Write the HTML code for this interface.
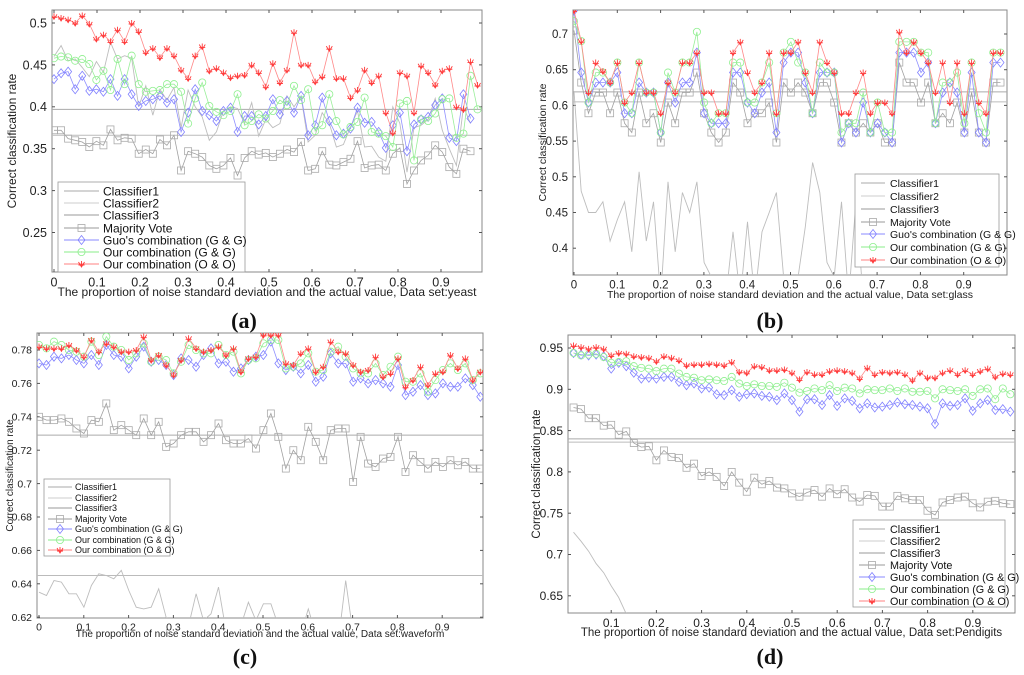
<!DOCTYPE html>
<html><head><meta charset="utf-8"><style>
html,body{margin:0;padding:0;background:#fff;overflow:hidden;width:1024px;height:675px}
svg{display:block;overflow:hidden;font-family:"Liberation Sans",Arial,sans-serif}
</style></head><body>
<svg id="fig" width="1024" height="675" viewBox="0 0 1024 675" xmlns="http://www.w3.org/2000/svg"></svg>
<script>
// ---------- data: panel (a) yeast ----------
const aRed=[0.508,0.506,0.504,0.500,0.509,0.499,0.481,0.486,0.478,0.492,0.478,0.500,0.490,0.465,0.470,0.459,0.470,0.461,0.444,0.434,0.461,0.472,0.443,0.446,0.441,0.435,0.437,0.438,0.450,0.441,0.424,0.452,0.429,0.444,0.489,0.450,0.450,0.430,0.436,0.470,0.434,0.434,0.411,0.420,0.444,0.429,0.437,0.393,0.369,0.441,0.437,0.393,0.449,0.441,0.426,0.443,0.446,0.400,0.397,0.454,0.426];
const aGreen=[0.458,0.460,0.459,0.455,0.457,0.451,0.432,0.443,0.420,0.457,0.427,0.461,0.427,0.418,0.419,0.420,0.427,0.427,0.418,0.380,0.410,0.429,0.401,0.394,0.390,0.395,0.415,0.378,0.383,0.391,0.386,0.395,0.408,0.402,0.425,0.408,0.421,0.371,0.378,0.415,0.383,0.367,0.376,0.382,0.411,0.370,0.368,0.365,0.352,0.404,0.407,0.336,0.385,0.383,0.392,0.409,0.410,0.363,0.368,0.437,0.397];
const aBlue=[0.433,0.440,0.442,0.421,0.437,0.419,0.421,0.418,0.433,0.413,0.433,0.415,0.401,0.407,0.409,0.413,0.405,0.409,0.370,0.393,0.421,0.395,0.390,0.383,0.395,0.399,0.370,0.389,0.389,0.379,0.389,0.409,0.391,0.407,0.393,0.413,0.366,0.378,0.411,0.383,0.366,0.368,0.374,0.399,0.381,0.382,0.370,0.351,0.378,0.393,0.347,0.379,0.385,0.388,0.402,0.410,0.363,0.359,0.415,0.386];
const aMV=[0.372,0.372,0.362,0.360,0.358,0.352,0.359,0.354,0.373,0.360,0.363,0.362,0.344,0.349,0.344,0.361,0.354,0.366,0.324,0.347,0.344,0.340,0.330,0.326,0.330,0.339,0.318,0.339,0.347,0.343,0.345,0.340,0.344,0.349,0.346,0.358,0.324,0.326,0.347,0.331,0.330,0.334,0.338,0.359,0.327,0.330,0.331,0.324,0.344,0.351,0.308,0.324,0.336,0.342,0.354,0.346,0.328,0.320,0.350,0.347];
const aC1=[0.460,0.473,0.455,0.457,0.447,0.436,0.454,0.441,0.477,0.457,0.461,0.458,0.400,0.425,0.390,0.421,0.408,0.423,0.375,0.420,0.400,0.388,0.360,0.370,0.395,0.400,0.398,0.380,0.405,0.365,0.385,0.375,0.380,0.413,0.400,0.412,0.358,0.366,0.393,0.380,0.352,0.355,0.376,0.395,0.352,0.353,0.340,0.335,0.400,0.380,0.322,0.375,0.378,0.385,0.410,0.372,0.350,0.330,0.400,0.380];
const aConst=[0.397,0.366];
const aYTicks=[0.25,0.3,0.35,0.4,0.45,0.5];
const aXTicks=[0,0.1,0.2,0.3,0.4,0.5,0.6,0.7,0.8,0.9];
// ---------- data: panel (b) glass ----------
const bRed=[0.733,0.690,0.618,0.660,0.648,0.632,0.660,0.604,0.618,0.660,0.618,0.618,0.589,0.632,0.618,0.660,0.660,0.674,0.618,0.618,0.589,0.589,0.674,0.689,0.646,0.618,0.632,0.674,0.589,0.674,0.674,0.689,0.646,0.618,0.689,0.660,0.646,0.589,0.589,0.618,0.646,0.589,0.604,0.604,0.589,0.703,0.674,0.689,0.674,0.660,0.618,0.660,0.604,0.660,0.589,0.660,0.604,0.589,0.674,0.674];
const bGreen=[0.718,0.690,0.604,0.646,0.646,0.632,0.660,0.604,0.589,0.660,0.618,0.618,0.562,0.646,0.618,0.660,0.660,0.703,0.604,0.575,0.589,0.589,0.660,0.660,0.604,0.604,0.632,0.660,0.589,0.674,0.689,0.660,0.646,0.589,0.660,0.646,0.646,0.562,0.575,0.575,0.618,0.562,0.604,0.562,0.562,0.689,0.689,0.689,0.674,0.674,0.575,0.632,0.632,0.646,0.575,0.660,0.589,0.562,0.674,0.674];
const bBlue=[0.733,0.646,0.604,0.632,0.632,0.632,0.646,0.589,0.589,0.632,0.618,0.618,0.562,0.632,0.604,0.632,0.632,0.674,0.589,0.575,0.575,0.575,0.646,0.646,0.604,0.589,0.618,0.632,0.562,0.660,0.674,0.674,0.632,0.589,0.646,0.646,0.646,0.548,0.575,0.562,0.604,0.562,0.575,0.562,0.548,0.674,0.674,0.674,0.646,0.660,0.575,0.618,0.632,0.618,0.562,0.646,0.562,0.548,0.660,0.660];
const bMV=[0.705,0.632,0.589,0.618,0.618,0.589,0.618,0.575,0.562,0.618,0.575,0.589,0.548,0.604,0.575,0.618,0.618,0.646,0.589,0.562,0.548,0.562,0.632,0.618,0.575,0.589,0.589,0.604,0.548,0.632,0.618,0.632,0.618,0.589,0.632,0.632,0.604,0.548,0.575,0.562,0.575,0.562,0.575,0.548,0.548,0.660,0.632,0.632,0.604,0.632,0.575,0.589,0.575,0.604,0.562,0.618,0.562,0.548,0.632,0.632];
const bC1=[0.620,0.480,0.450,0.450,0.465,0.410,0.440,0.465,0.395,0.507,0.410,0.465,0.330,0.493,0.395,0.478,0.450,0.493,0.380,0.360,0.310,0.330,0.423,0.330,0.437,0.330,0.423,0.450,0.478,0.360,0.330,0.360,0.430,0.520,0.478,0.380,0.360,0.465,0.330,0.465,0.330,0.360,0.350,0.320,0.340,0.330,0.350,0.320,0.340,0.330,0.310,0.340,0.320,0.350,0.330,0.340,0.320,0.330,0.340,0.330];
const bConst=[0.619,0.605];
const bYTicks=[0.4,0.45,0.5,0.55,0.6,0.65,0.7];
const bXTicks=[0,0.1,0.2,0.3,0.4,0.5,0.6,0.7,0.8,0.9];
// ---------- data: panel (c) waveform ----------
const cRed=[0.782,0.781,0.781,0.781,0.783,0.780,0.776,0.786,0.779,0.784,0.782,0.779,0.779,0.780,0.788,0.774,0.777,0.771,0.765,0.774,0.787,0.781,0.779,0.780,0.782,0.777,0.781,0.767,0.775,0.776,0.789,0.789,0.789,0.772,0.771,0.778,0.781,0.767,0.770,0.785,0.779,0.778,0.771,0.767,0.768,0.776,0.764,0.766,0.775,0.758,0.762,0.770,0.759,0.766,0.767,0.777,0.769,0.775,0.762,0.767];
const cGreen=[0.783,0.781,0.785,0.783,0.780,0.779,0.776,0.785,0.777,0.788,0.782,0.780,0.774,0.778,0.784,0.773,0.776,0.774,0.766,0.773,0.783,0.780,0.778,0.778,0.783,0.777,0.779,0.766,0.774,0.775,0.784,0.786,0.786,0.769,0.770,0.772,0.778,0.767,0.768,0.779,0.782,0.776,0.769,0.766,0.766,0.772,0.765,0.770,0.776,0.761,0.761,0.766,0.755,0.762,0.768,0.772,0.768,0.772,0.762,0.766];
const cBlue=[0.772,0.771,0.776,0.775,0.777,0.774,0.772,0.777,0.771,0.783,0.777,0.776,0.769,0.776,0.782,0.773,0.774,0.771,0.765,0.775,0.774,0.770,0.777,0.781,0.772,0.773,0.767,0.769,0.774,0.776,0.777,0.785,0.772,0.768,0.770,0.766,0.771,0.761,0.764,0.778,0.772,0.772,0.761,0.763,0.760,0.762,0.760,0.758,0.771,0.753,0.755,0.759,0.753,0.754,0.760,0.758,0.758,0.763,0.759,0.752];
const cMV=[0.740,0.738,0.738,0.739,0.737,0.733,0.730,0.738,0.737,0.748,0.732,0.735,0.732,0.729,0.739,0.729,0.737,0.722,0.724,0.729,0.731,0.731,0.725,0.729,0.736,0.726,0.724,0.724,0.727,0.721,0.732,0.742,0.728,0.709,0.720,0.714,0.734,0.725,0.714,0.732,0.733,0.733,0.701,0.728,0.712,0.710,0.715,0.716,0.728,0.707,0.717,0.713,0.709,0.713,0.710,0.714,0.711,0.713,0.709,0.709];
const cC1=[0.635,0.633,0.642,0.641,0.634,0.634,0.626,0.639,0.646,0.645,0.643,0.648,0.636,0.626,0.625,0.626,0.637,0.620,0.615,0.610,0.615,0.634,0.618,0.622,0.638,0.612,0.610,0.615,0.629,0.618,0.628,0.628,0.615,0.610,0.605,0.610,0.625,0.610,0.605,0.610,0.605,0.642,0.610,0.600,0.605,0.600,0.610,0.600,0.605,0.600,0.610,0.600,0.605,0.600,0.600,0.605,0.600,0.600,0.605,0.600];
const cConst=[0.729,0.645];
const cYTicks=[0.62,0.64,0.66,0.68,0.7,0.72,0.74,0.76,0.78];
const cXTicks=[0,0.1,0.2,0.3,0.4,0.5,0.6,0.7,0.8,0.9];
// ---------- data: panel (d) Pendigits ----------
const dRed=[0.953,0.951,0.949,0.951,0.949,0.941,0.944,0.943,0.940,0.939,0.938,0.934,0.940,0.938,0.935,0.929,0.930,0.930,0.931,0.930,0.929,0.933,0.921,0.920,0.928,0.927,0.923,0.923,0.924,0.920,0.912,0.921,0.918,0.918,0.922,0.923,0.922,0.920,0.913,0.926,0.918,0.921,0.920,0.921,0.918,0.911,0.920,0.914,0.914,0.920,0.923,0.918,0.923,0.918,0.922,0.925,0.915,0.919,0.918];
const dGreen=[0.944,0.941,0.942,0.943,0.939,0.932,0.933,0.934,0.928,0.926,0.925,0.922,0.925,0.925,0.919,0.915,0.914,0.911,0.912,0.911,0.910,0.915,0.907,0.904,0.906,0.904,0.904,0.903,0.908,0.902,0.896,0.898,0.901,0.899,0.905,0.898,0.902,0.901,0.895,0.900,0.899,0.899,0.901,0.898,0.901,0.897,0.897,0.898,0.889,0.900,0.899,0.898,0.900,0.892,0.900,0.901,0.888,0.901,0.894];
const dBlue=[0.944,0.942,0.941,0.942,0.940,0.925,0.932,0.928,0.920,0.913,0.914,0.913,0.915,0.915,0.909,0.905,0.907,0.901,0.902,0.894,0.893,0.899,0.891,0.894,0.895,0.892,0.891,0.887,0.895,0.887,0.873,0.888,0.888,0.881,0.893,0.880,0.889,0.886,0.877,0.883,0.878,0.879,0.881,0.884,0.882,0.881,0.879,0.877,0.858,0.883,0.880,0.881,0.889,0.874,0.883,0.887,0.875,0.876,0.873];
const dMV=[0.878,0.876,0.865,0.865,0.856,0.857,0.845,0.849,0.835,0.830,0.831,0.814,0.826,0.818,0.817,0.805,0.810,0.795,0.800,0.794,0.783,0.800,0.787,0.776,0.793,0.785,0.789,0.781,0.780,0.774,0.770,0.775,0.778,0.770,0.780,0.773,0.779,0.769,0.764,0.772,0.771,0.758,0.758,0.771,0.768,0.766,0.766,0.753,0.748,0.763,0.766,0.769,0.770,0.762,0.757,0.764,0.765,0.762,0.761];
// Classifier1 on Pendigits only visible for the first few points (drops below axis)
const dC1=[0.727,0.716,0.704,0.689,0.678,0.662,0.648,0.628,0.612];
const dConst=[0.840,0.836];
const dYTicks=[0.65,0.7,0.75,0.8,0.85,0.9,0.95];
const dXTicks=[0.1,0.2,0.3,0.4,0.5,0.6,0.7,0.8,0.9];
const legendNames=["Classifier1","Classifier2","Classifier3","Majority Vote","Guo's combination (G & G)","Our combination (G & G)","Our combination (O & O)"];

const NS="http://www.w3.org/2000/svg";
const svg=document.getElementById('fig');
function mk(tag,attrs,parent){const e=document.createElementNS(NS,tag);for(const k in attrs)e.setAttribute(k,attrs[k]);(parent||svg).appendChild(e);return e;}

const panels=[
 {id:'a',L:52,R:482,T:10,B:272,x0px:54,xs:430,y0v:0.5,y0px:23,ys:41.9/0.05,xStart:0,xEnd:0.985,step:0.985/60,red:aRed,green:aGreen,blue:aBlue,mv:aMV,c1:aC1,cons:aConst,yt:aYTicks,xt:aXTicks,fs:12.5,xfs:12,
  xlabel:"The proportion of noise standard deviation and the actual value, Data set:yeast",xlY:296,ylX:16,
  leg:{x:58,y:182,w:187,h:90,rows:[191,203,215,228,240,252,264],fs:12,lx1:64,lx2:99,tx:103},tag:{x:244,y:328}},
 {id:'b',L:573,R:1007,T:10,B:275,x0px:574,xs:433,y0v:0.7,y0px:34,ys:35.7/0.05,xStart:0,xEnd:0.985,step:0.985/59,red:bRed,green:bGreen,blue:bBlue,mv:bMV,c1:bC1,cons:bConst,yt:bYTicks,xt:bXTicks,fs:11.5,xfs:10.5,
  xlabel:"The proportion of noise standard deviation and the actual value, Data set:glass",xlY:298,ylX:546,
  leg:{x:855,y:174,w:144,h:93,rows:[183,196,209,222,234,247,260],fs:10.5,lx1:861,lx2:885,tx:890},tag:{x:770,y:328}},
 {id:'c',L:37,R:483,T:333,B:618,x0px:39,xs:448,y0v:0.78,y0px:350,ys:33.4/0.02,xStart:0,xEnd:0.985,step:0.985/59,red:cRed,green:cGreen,blue:cBlue,mv:cMV,c1:cC1,cons:cConst,yt:cYTicks,xt:cXTicks,fs:10.5,xfs:10,
  xlabel:"The proportion of noise standard deviation and the actual value, Data set:waveform",xlY:637,ylX:13,
  leg:{x:44,y:479,w:126,h:77,rows:[487,498,508,519,529,540,550],fs:9,lx1:48,lx2:72,tx:75},tag:{x:245,y:664}},
 {id:'d',L:568,R:1015,T:335,B:613,x0px:566,xs:452,y0v:0.95,y0px:348,ys:41.3/0.05,xStart:0.0167,xEnd:0.983,step:(0.983-0.0167)/58,red:dRed,green:dGreen,blue:dBlue,mv:dMV,c1:dC1,cons:dConst,yt:dYTicks,xt:dXTicks,fs:12,xfs:11.5,
  xlabel:"The proportion of noise standard deviation and the actual value, Data set:Pendigits",xlY:636,ylX:540,
  leg:{x:853,y:520,w:152,h:87,rows:[529,541,553,565,577,589,601],fs:10.8,lx1:859,lx2:885,tx:890},tag:{x:770,y:664}}
];

function marker(g,type,cx,cy){
  let el;
  if(type==='sq') el=mk('rect',{x:cx-3.5,y:cy-3.5,width:7,height:7,fill:'none',stroke:'#aaa','stroke-width':0.8},g);
  else if(type==='di') el=mk('path',{d:`M${cx},${cy-4.5}L${cx+3.5},${cy}L${cx},${cy+4.5}L${cx-3.5},${cy}Z`,fill:'none',stroke:'#8080ff','stroke-width':0.8},g);
  else if(type==='ci') el=mk('circle',{cx:cx,cy:cy,r:3.6,fill:'none',stroke:'#8fef8f','stroke-width':0.8},g);
  else el=mk('path',{d:`M${cx-3},${cy-2}L${cx},${cy+3}L${cx+3},${cy-2}M${cx-3},${cy+1}L${cx+3},${cy+1}M${cx},${cy-3}L${cx},${cy+3}`,fill:'none',stroke:'#ff3a3a','stroke-width':0.9},g);
  return el;
}

panels.forEach(p=>{
  const X=v=>p.x0px+v*p.xs;
  const Y=v=>p.y0px+(p.y0v-v)*p.ys;
  const g=mk('g',{});
  
  
  const cp=mk('clipPath',{id:'clip'+p.id},g);
  mk('rect',{x:p.L,y:p.T,width:p.R-p.L,height:p.B-p.T},cp);
  const box=mk('rect',{x:p.L,y:p.T,width:p.R-p.L,height:p.B-p.T,fill:'none',stroke:'#888','stroke-width':1},g);
  
  
  p.yt.forEach(v=>{
    const y=Y(v);
    mk('line',{x1:p.L,x2:p.L+3,y1:y,y2:y,stroke:'#555'},g);
    mk('line',{x1:p.R-3,x2:p.R,y1:y,y2:y,stroke:'#555'},g);
    const t=mk('text',{x:p.L-5,y:y+p.fs*0.35,'text-anchor':'end','font-size':p.fs,fill:'#222'},g);
    t.textContent=String(v);
    
    
  });
  p.xt.forEach(v=>{
    const x=X(v);
    mk('line',{x1:x,x2:x,y1:p.B,y2:p.B-3,stroke:'#555'},g);
    mk('line',{x1:x,x2:x,y1:p.T,y2:p.T+3,stroke:'#555'},g);
    const t=mk('text',{x:x,y:p.B+p.fs+2,'text-anchor':'middle','font-size':p.fs,fill:'#222'},g);
    t.textContent=String(v);
    
    
  });
  const xl=mk('text',{x:(p.L+p.R)/2,y:p.xlY,'text-anchor':'middle','font-size':p.xfs,fill:'#222'},g);
  xl.textContent=p.xlabel;
  
  
  const yc=(p.T+p.B)/2;
  const yl=mk('text',{x:p.ylX,y:yc,'text-anchor':'middle','font-size':p.xfs,fill:'#222',transform:`rotate(-90 ${p.ylX} ${yc})`},g);
  yl.textContent="Correct classification rate";
  
  

  const pg=mk('g',{'clip-path':`url(#clip${p.id})`},g);
  const xsOf=arr=>arr.map((_,i)=>p.xStart+i*p.step);
  function line(arr,color,w,name){
    const xs=xsOf(arr);
    const pl=mk('polyline',{points:arr.map((v,i)=>X(xs[i]).toFixed(1)+','+Y(v).toFixed(1)).join(' '),fill:'none',stroke:color,'stroke-width':w},pg);
    
    
    return xs;
  }
  p.cons.forEach((v,i)=>{
    const l=mk('line',{x1:p.L,x2:p.R,y1:Y(v),y2:Y(v),stroke:i?'#bbb':'#aaa','stroke-width':1},pg);
    
    
  });
  line(p.c1,'#bdbdbd',0.9,'classifier1-line');
  const series=[[p.mv,'#a0a0a0','sq','majority-vote'],[p.blue,'#9090ff','di','guo-gg'],[p.green,'#99ee99','ci','our-gg'],[p.red,'#ff8888','st','our-oo']];
  series.forEach(s=>{
    const xs=line(s[0],s[1],0.8,s[3]+'-line');
    s[0].forEach((v,i)=>{
      const m=marker(pg,s[2],X(xs[i]),Y(v));
      
      
    });
  });
  const L=p.leg;
  const lg=mk('g',{},g);
  
  
  mk('rect',{x:L.x,y:L.y,width:L.w,height:L.h,fill:'#fff',stroke:'#999','stroke-width':0.8},lg);
  const lc=['#aaa','#ccc','#999','#999','#8888ff','#88ee88','#ff8080'];
  const lm=[null,null,null,'sq','di','ci','st'];
  legendNames.forEach((n,i)=>{
    const y=L.rows[i];
    mk('line',{x1:L.lx1,x2:L.lx2,y1:y,y2:y,stroke:lc[i],'stroke-width':1},lg);
    if(lm[i]) marker(lg,lm[i],(L.lx1+L.lx2)/2,y);
    const t=mk('text',{x:L.tx,y:y+L.fs*0.36,'font-size':L.fs,fill:'#111'},lg);
    t.textContent=n;
    
    
  });
  const tg=mk('text',{x:p.tag.x,y:p.tag.y,'text-anchor':'middle','font-size':22,'font-weight':'bold','font-family':'"Liberation Serif",serif',fill:'#111'},g);
  tg.textContent='('+p.id+')';
  
  
});
</script>
</body></html>
